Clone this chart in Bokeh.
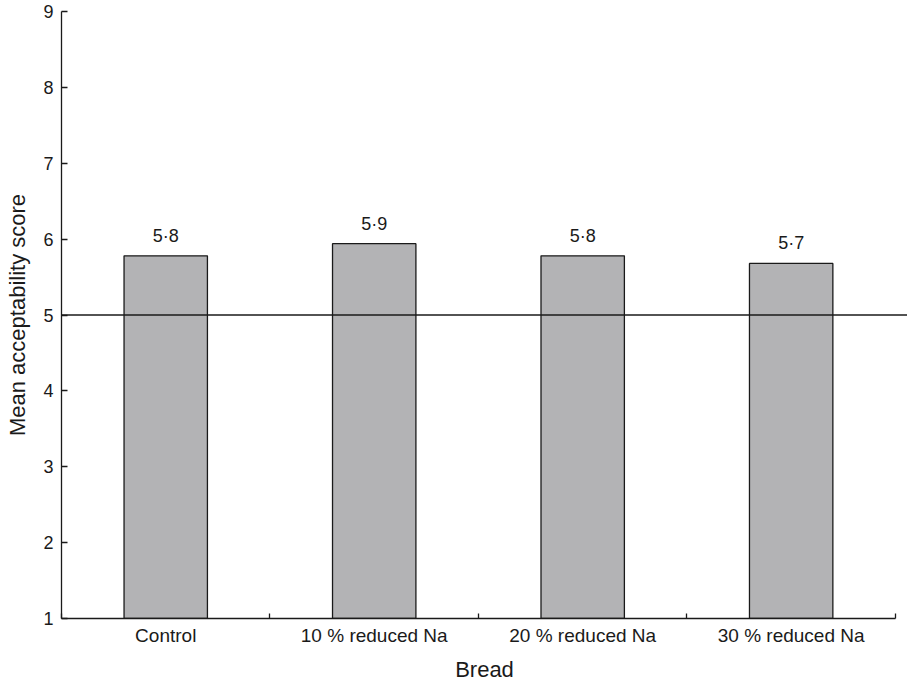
import numpy as np
from bokeh.plotting import figure
from bokeh.models import Range1d, FixedTicker, Span, ColumnDataSource
from bokeh.core.properties import value
from bokeh.embed import file_html
from bokeh.resources import INLINE

categories = ["Control", "10 % reduced Na", "20 % reduced Na", "30 % reduced Na"]
scores = [5.78, 5.94, 5.78, 5.68]
score_labels = ["5·8", "5·9", "5·8", "5·7"]
y_ticks = [1, 2, 3, 4, 5, 6, 7, 8, 9]
reference_score = 5

FONT = "Liberation Sans"
INK = "#1a1a1a"

xpos = np.arange(len(categories)) + 0.5
src = ColumnDataSource(dict(x=xpos, top=scores, lab=score_labels))

p = figure(width=907, height=684, output_backend="svg", toolbar_location=None,
           x_range=Range1d(0, 4.058), y_range=Range1d(1, 9),
           min_border_left=61, min_border_right=0, min_border_top=11,
           min_border_bottom=65)
p.outline_line_color = None
p.xgrid.visible = False
p.ygrid.visible = False
p.background_fill_color = "white"
p.border_fill_color = "white"

p.vbar(x="x", top="top", bottom=1, width=0.4, source=src,
       fill_color="#b3b3b5", line_color=INK, line_width=1.3)

p.add_layout(Span(location=reference_score, dimension="width",
                  line_color=INK, line_width=1.3))

p.text(x="x", y="top", text="lab", source=src, text_align="center",
       text_baseline="alphabetic", y_offset=-20,
       text_font=value(FONT), text_font_size="18px", text_color=INK)

# x axis
xa = p.xaxis[0]
xa.ticker = FixedTicker(ticks=list(xpos), minor_ticks=list(range(len(categories) + 1)))
xa.major_label_overrides = {float(x): c for x, c in zip(xpos, categories)}
xa.bounds = (0, len(categories))
xa.major_tick_in = 0
xa.major_tick_out = 0
xa.minor_tick_in = 5
xa.minor_tick_out = 0
xa.minor_tick_line_color = INK
xa.minor_tick_line_width = 1.3
xa.axis_line_color = INK
xa.axis_line_width = 1.3
xa.major_label_text_font = FONT
xa.major_label_text_font_size = "19px"
xa.major_label_text_color = INK
xa.major_label_standoff = 6
xa.axis_label = "Bread"
xa.axis_label_text_font = FONT
xa.axis_label_text_font_size = "22px"
xa.axis_label_text_font_style = "normal"
xa.axis_label_text_color = INK
xa.axis_label_standoff = 8

# y axis
ya = p.yaxis[0]
ya.ticker = FixedTicker(ticks=y_ticks)
ya.major_tick_in = 6
ya.major_tick_out = 0
ya.minor_tick_in = 0
ya.minor_tick_out = 0
ya.major_tick_line_color = INK
ya.major_tick_line_width = 1.3
ya.axis_line_color = INK
ya.axis_line_width = 1.3
ya.major_label_text_font = FONT
ya.major_label_text_font_size = "18px"
ya.major_label_text_color = INK
ya.major_label_standoff = 8
ya.axis_label = "Mean acceptability score"
ya.axis_label_text_font = FONT
ya.axis_label_text_font_size = "22px"
ya.axis_label_text_font_style = "normal"
ya.axis_label_text_color = INK
ya.axis_label_standoff = 10

open("out.html", "w").write(file_html(p, INLINE))
